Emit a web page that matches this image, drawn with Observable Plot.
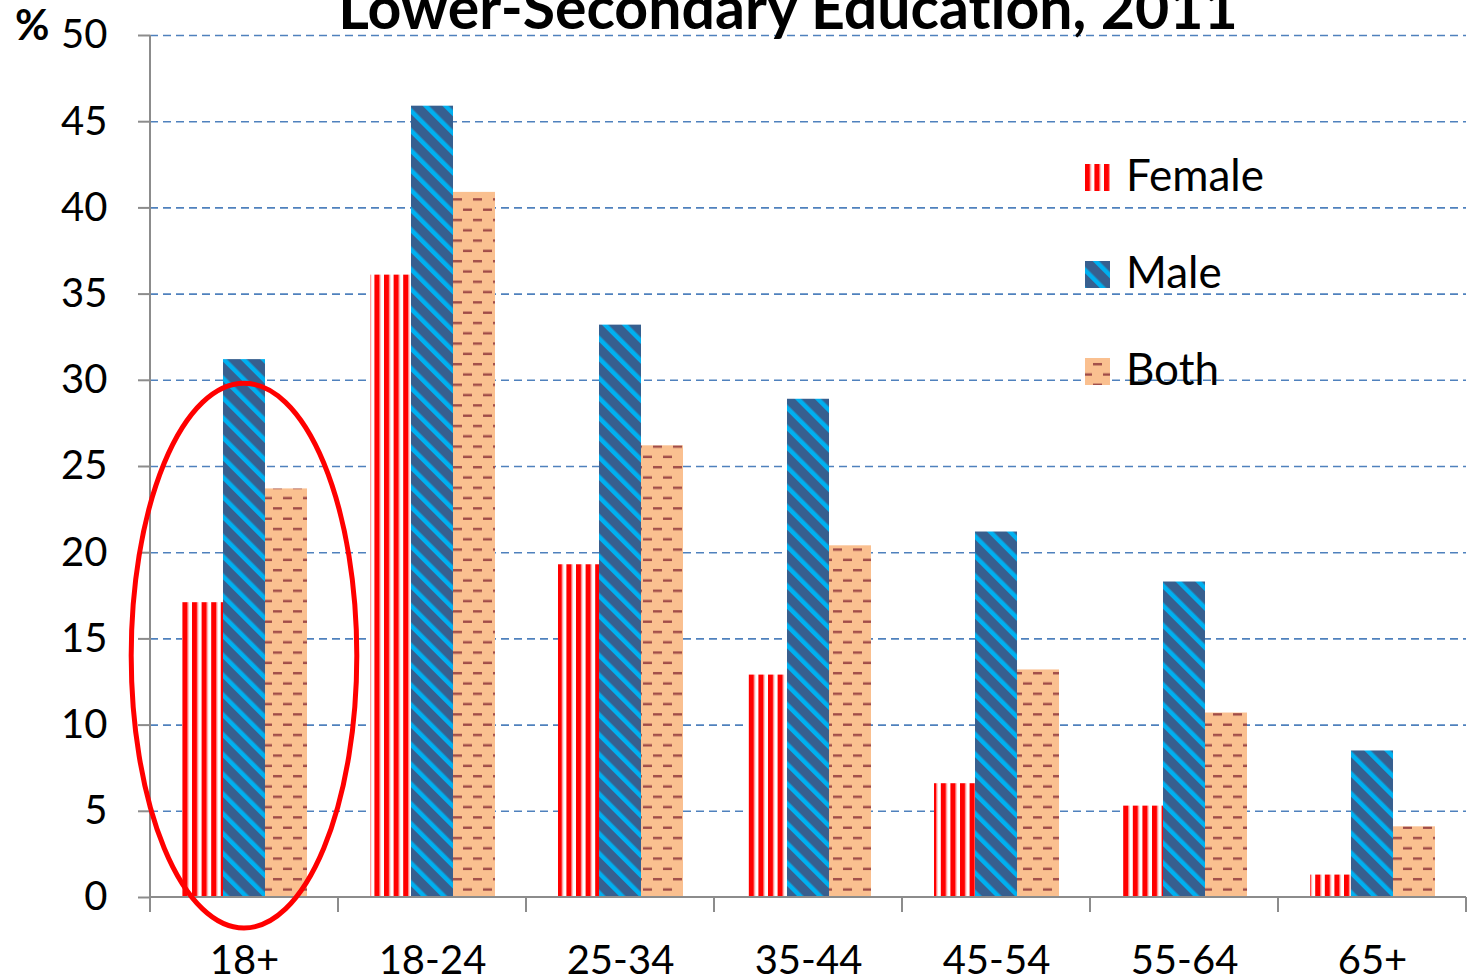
<!DOCTYPE html>
<html>
<head>
<meta charset="utf-8">
<script src="https://cdn.jsdelivr.net/npm/d3@7"></script>
<script src="https://cdn.jsdelivr.net/npm/@observablehq/plot@0.6"></script>
<style>
  html, body { margin: 0; padding: 0; background: #fff; overflow: hidden; }
  #wrap { position: relative; width: 1468px; height: 979px; }
  #title { position: absolute; left: 0; width: 1576px; top: -28px; text-align: center;
           font-family: Lato, sans-serif; font-weight: bold; font-size: 59px; line-height: 1.2; color: #000;
           font-variant-ligatures: none; white-space: nowrap; }
  #unit { position: absolute; left: 15px; top: -1px; font-family: Lato, sans-serif; font-weight: bold;
          font-size: 42px; line-height: 1.2; color: #000; }
</style>
</head>
<body>
<div id="wrap">
  <div id="chart"></div>
  <div id="title">Lower-Secondary Education, 2011</div>
  <div id="unit">%</div>
</div>
<script>
// ---- data ----
const ages = ["18+", "18-24", "25-34", "35-44", "45-54", "55-64", "65+"];
const female = [17.1, 36.1, 19.3, 12.9, 6.6, 5.3, 1.3];
const male = [31.2, 45.9, 33.2, 28.9, 21.2, 18.3, 8.5];
const both = [23.7, 40.9, 26.2, 20.4, 13.2, 10.7, 4.1];
const yTicks = [0, 5, 10, 15, 20, 25, 30, 35, 40, 45, 50];
const seriesNames = ["Female", "Male", "Both"];
// highlighted group (red ellipse), in data units
const highlightCategory = "18+";
const highlightYRange = [-1.8, 29.8];

const rows = ages.map((a, i) => ({age: a, female: female[i], male: male[i], both: both[i]}));

const AXIS = "#8c8c8c";
const NS = "http://www.w3.org/2000/svg";

function el(name, attrs, parent) {
  const e = document.createElementNS(NS, name);
  for (const k in attrs) e.setAttribute(k, attrs[k]);
  if (parent) parent.appendChild(e);
  return e;
}

function defsMark() {
  const g = el("g", {});
  const defs = el("defs", {}, g);
  // Female: vertical red stripes
  const pf = el("pattern", {id: "pFemale", patternUnits: "userSpaceOnUse", width: 9.6, height: 10}, defs);
  el("rect", {x: 0, y: 0, width: 9.6, height: 10, fill: "#ffffff"}, pf);
  el("rect", {x: 0, y: 0, width: 5.4, height: 10, fill: "#ff0000"}, pf);
  el("rect", {x: 5.4, y: 0, width: 1, height: 10, fill: "#ffb4b4"}, pf);
  // Male: dark blue with diagonal cyan stripes
  const pm = el("pattern", {id: "pMale", patternUnits: "userSpaceOnUse", width: 14, height: 14, patternTransform: "rotate(-45)"}, defs);
  el("rect", {x: 0, y: 0, width: 14, height: 14, fill: "#375f8f"}, pm);
  el("rect", {x: 0, y: 0, width: 4.5, height: 14, fill: "#00b0f0"}, pm);
  // Both: peach with dashes
  const pb = el("pattern", {id: "pBoth", patternUnits: "userSpaceOnUse", width: 20, height: 20.6}, defs);
  el("rect", {x: 0, y: 0, width: 20, height: 20.6, fill: "#fac090"}, pb);
  el("rect", {x: 3, y: 2.5, width: 9, height: 2.4, fill: "#a04c48"}, pb);
  el("rect", {x: 13, y: 12.8, width: 7, height: 2.4, fill: "#a04c48"}, pb);
  el("rect", {x: 0, y: 12.8, width: 2, height: 2.4, fill: "#a04c48"}, pb);
  return g;
}

function axesMark(index, scales, values, dim) {
  const g = el("g", {stroke: AXIS, "stroke-width": 2, fill: "none"});
  const x0 = dim.marginLeft, x1 = dim.width - dim.marginRight;
  const yb = scales.y(0), yt = scales.y(50);
  el("line", {x1: x0, x2: x0, y1: yt, y2: yb + 15}, g);
  el("line", {x1: x0, x2: x1, y1: yb, y2: yb}, g);
  const xs = ages.map(a => scales.x(a)).concat([x1]);
  xs.forEach(x => el("line", {x1: x, x2: x, y1: yb, y2: yb + 15}, g));
  return g;
}

function ellipseMark(index, scales, values, dim) {
  const bw = scales.x.bandwidth ? scales.x.bandwidth() : (dim.width - dim.marginLeft - dim.marginRight) / ages.length;
  const cx = scales.x(highlightCategory) + bw / 2;
  const yTop = scales.y(highlightYRange[1]), yBot = scales.y(highlightYRange[0]);
  return el("ellipse", {cx, cy: (yTop + yBot) / 2, rx: bw * 0.6, ry: (yBot - yTop) / 2,
    fill: "none", stroke: "#ff0000", "stroke-width": 5});
}

function legendMark(index, scales, values, dim) {
  const g = el("g", {"text-anchor": "start"});
  const fills = ["url(#pFemale)", "url(#pMale)", "url(#pBoth)"];
  const lx = dim.width - 383, ly0 = 164, step = 97;
  seriesNames.forEach((name, i) => {
    const y = ly0 + i * step;
    el("rect", {x: lx, y, width: 25, height: 27, fill: fills[i]}, g);
    const t = el("text", {x: lx + 41, y: y + 27, "font-size": 44, "font-family": "Lato, sans-serif", fill: "#000", "text-anchor": "start"}, g);
    t.textContent = name;
  });
  return g;
}

const chart = Plot.plot({
  width: 1468,
  height: 979,
  marginLeft: 150,
  marginRight: 2,
  marginTop: 35,
  marginBottom: 82,
  style: {fontFamily: "Lato, sans-serif", background: "#fff", overflow: "visible"},
  x: {domain: ages, padding: 0, axis: null, label: null},
  y: {domain: [0, 50], axis: null, label: null},
  marks: [
    defsMark,
    Plot.gridY(yTicks.filter(d => d > 0), {stroke: "#4f81bd", strokeOpacity: 1, strokeWidth: 1.6, strokeDasharray: "8,5"}),
    Plot.barY(rows, {x: "age", y: "female", fill: "url(#pFemale)", insetLeft: 32, insetRight: 115}),
    Plot.barY(rows, {x: "age", y: "male", fill: "url(#pMale)", insetLeft: 73, insetRight: 73}),
    Plot.barY(rows, {x: "age", y: "both", fill: "url(#pBoth)", insetLeft: 115, insetRight: 31}),
    Plot.axisY(yTicks, {tickSize: 12, tickPadding: 31, fontSize: 40, stroke: AXIS, strokeWidth: 2, fill: "#000", label: null, tickFormat: d => String(d)}),
    Plot.axisX({tickSize: 0, tickPadding: 48, fontSize: 40, fill: "#000", label: null}),
    axesMark,
    ellipseMark,
    legendMark
  ]
});
document.getElementById("chart").appendChild(chart);
</script>
</body>
</html>
